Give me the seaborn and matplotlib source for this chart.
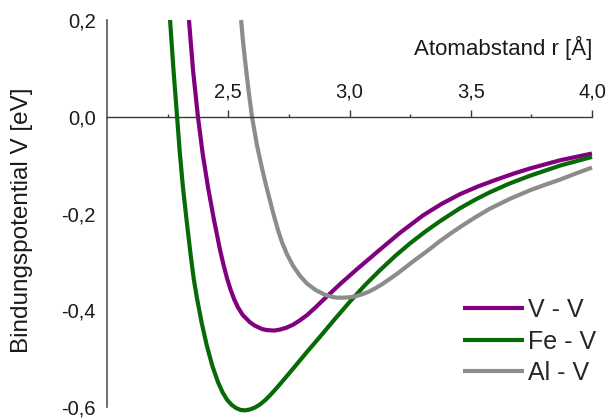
import matplotlib
matplotlib.use("Agg")
import matplotlib.pyplot as plt
from matplotlib.ticker import FixedLocator, FuncFormatter
import seaborn as sns
import pandas as pd

# ---- data (r in Å, V in eV) ----
r_vv = [2.338, 2.355, 2.375, 2.395, 2.417, 2.440, 2.466, 2.480, 2.495, 2.510, 2.525, 2.540,
        2.560, 2.590, 2.610, 2.640, 2.660, 2.690, 2.713, 2.740, 2.767, 2.795, 2.825, 2.858,
        2.891, 2.925, 2.961, 3.031, 3.113, 3.208, 3.303, 3.380, 3.456, 3.530, 3.600, 3.680,
        3.744, 3.868, 4.000]
v_vv = [0.200, 0.095, 0.000, -0.078, -0.147, -0.210, -0.275, -0.305, -0.334, -0.358, -0.378, -0.394,
        -0.410, -0.425, -0.432, -0.439, -0.441, -0.442, -0.440, -0.436, -0.430, -0.421, -0.410, -0.395,
        -0.379, -0.363, -0.346, -0.315, -0.280, -0.240, -0.204, -0.180, -0.160, -0.144, -0.131, -0.117,
        -0.107, -0.090, -0.076]

r_fev = [2.260, 2.274, 2.289, 2.300, 2.313, 2.330, 2.346, 2.358, 2.371, 2.390, 2.412, 2.435,
         2.458, 2.477, 2.495, 2.515, 2.532, 2.550, 2.569, 2.590, 2.610, 2.630, 2.652, 2.672,
         2.692, 2.713, 2.740, 2.767, 2.795, 2.825, 2.878, 2.940, 3.002, 3.064, 3.126, 3.188,
         3.249, 3.311, 3.373, 3.456, 3.520, 3.579, 3.660, 3.744, 3.868, 4.000]
v_fev = [0.200, 0.098, 0.000, -0.073, -0.145, -0.222, -0.290, -0.336, -0.375, -0.425, -0.474, -0.516,
         -0.549, -0.570, -0.585, -0.596, -0.602, -0.606, -0.607, -0.605, -0.601, -0.595, -0.586, -0.576,
         -0.565, -0.553, -0.537, -0.521, -0.504, -0.486, -0.455, -0.418, -0.382, -0.348, -0.317, -0.288,
         -0.262, -0.238, -0.216, -0.189, -0.171, -0.156, -0.138, -0.122, -0.101, -0.083]

r_alv = [2.553, 2.560, 2.569, 2.583, 2.598, 2.618, 2.639, 2.655, 2.672, 2.688, 2.705, 2.722,
         2.742, 2.767, 2.796, 2.825, 2.860, 2.899, 2.925, 2.948, 2.975, 3.002, 3.027, 3.052,
         3.078, 3.105, 3.135, 3.167, 3.198, 3.229, 3.265, 3.303, 3.340, 3.373, 3.415, 3.456,
         3.515, 3.579, 3.660, 3.744, 3.810, 3.868, 3.935, 4.000]
v_alv = [0.200, 0.160, 0.118, 0.057, 0.000, -0.058, -0.106, -0.140, -0.173, -0.204, -0.234, -0.260,
         -0.284, -0.308, -0.329, -0.345, -0.358, -0.368, -0.372, -0.374, -0.374, -0.373, -0.371, -0.367,
         -0.362, -0.355, -0.346, -0.335, -0.324, -0.312, -0.298, -0.284, -0.270, -0.257, -0.242, -0.228,
         -0.209, -0.190, -0.170, -0.152, -0.140, -0.130, -0.117, -0.105]

labels = ["V - V", "Fe - V", "Al - V"]
colors = ["#800080", "#066b06", "#8c8c8c"]

x_major = [2.5, 3.0, 3.5, 4.0]
x_minor = [2.25, 2.75, 3.25, 3.75]
y_major = [-0.6, -0.4, -0.2, 0.0, 0.2]
y_minor = [-0.5, -0.3, -0.1, 0.1]

df = pd.concat([
    pd.DataFrame({"r": r_vv, "V": v_vv, "Paar": labels[0]}),
    pd.DataFrame({"r": r_fev, "V": v_fev, "Paar": labels[1]}),
    pd.DataFrame({"r": r_alv, "V": v_alv, "Paar": labels[2]}),
], ignore_index=True)

sns.set_style("white")
plt.rcParams["font.family"] = ["Liberation Sans", "DejaVu Sans"]

W, H = 616, 419
fig = plt.figure(figsize=(W / 100, H / 100), dpi=100)
ax = fig.add_axes([107 / W, (H - 407) / H, 485 / W, 387 / H])

sns.lineplot(data=df, x="r", y="V", hue="Paar", palette=dict(zip(labels, colors)),
             estimator=None, sort=False, linewidth=3.0, ax=ax, legend=True)
for ln in ax.lines:
    ln.set_clip_on(False)
    ln.set_solid_capstyle("butt")
    ln.set_solid_joinstyle("round")

ax.set_xlim(2.0, 4.0)
ax.set_ylim(-0.6, 0.2)

axis_col = "#3a3a3a"
ax.spines["right"].set_visible(False)
ax.spines["bottom"].set_visible(False)
ax.spines["top"].set_position(("data", 0.0))
ax.spines["top"].set_color(axis_col)
ax.spines["left"].set_color("#555555")
ax.spines["top"].set_linewidth(1.0)
ax.spines["left"].set_linewidth(1.2)

ax.xaxis.tick_top()
ax.xaxis.set_major_locator(FixedLocator(x_major))
ax.xaxis.set_minor_locator(FixedLocator(x_minor))
ax.yaxis.set_major_locator(FixedLocator(y_major))
ax.yaxis.set_minor_locator(FixedLocator(y_minor))
fmt = FuncFormatter(lambda v, p: f"{v:.1f}".replace(".", ","))
ax.xaxis.set_major_formatter(fmt)
ax.yaxis.set_major_formatter(fmt)

ax.tick_params(axis="x", which="major", direction="out", length=5, width=1, colors=axis_col,
               labelsize=14.5, pad=6, labelcolor="#1a1a1a")
ax.tick_params(axis="x", which="minor", direction="out", length=2.5, width=1, colors=axis_col)
ax.tick_params(axis="y", which="major", direction="out", length=5, width=1.2, colors="#555555",
               labelsize=14.5, pad=3, labelcolor="#1a1a1a")
ax.tick_params(axis="y", which="minor", direction="out", length=2.5, width=1.2, colors="#555555")

ax.set_xlabel("")
ax.set_ylabel("")
fig.text(592 / W, 1 - 48 / H, "Atomabstand r [Å]", ha="right", va="center",
         fontsize=16, color="#1a1a1a")
fig.text(22 / W, 1 - 220 / H, "Bindungspotential V [eV]", ha="center", va="center",
         rotation=90, fontsize=17.5, color="#1a1a1a")

leg = ax.legend(loc="upper left", bbox_to_anchor=(463 / W, 1 - 298 / H),
                bbox_transform=fig.transFigure, frameon=False, fontsize=18,
                handlelength=2.45, handletextpad=0.15, labelspacing=0.3,
                borderpad=0, borderaxespad=0)
for h in leg.get_lines():
    h.set_linewidth(3.0)

fig.savefig("out.png", dpi=100)
